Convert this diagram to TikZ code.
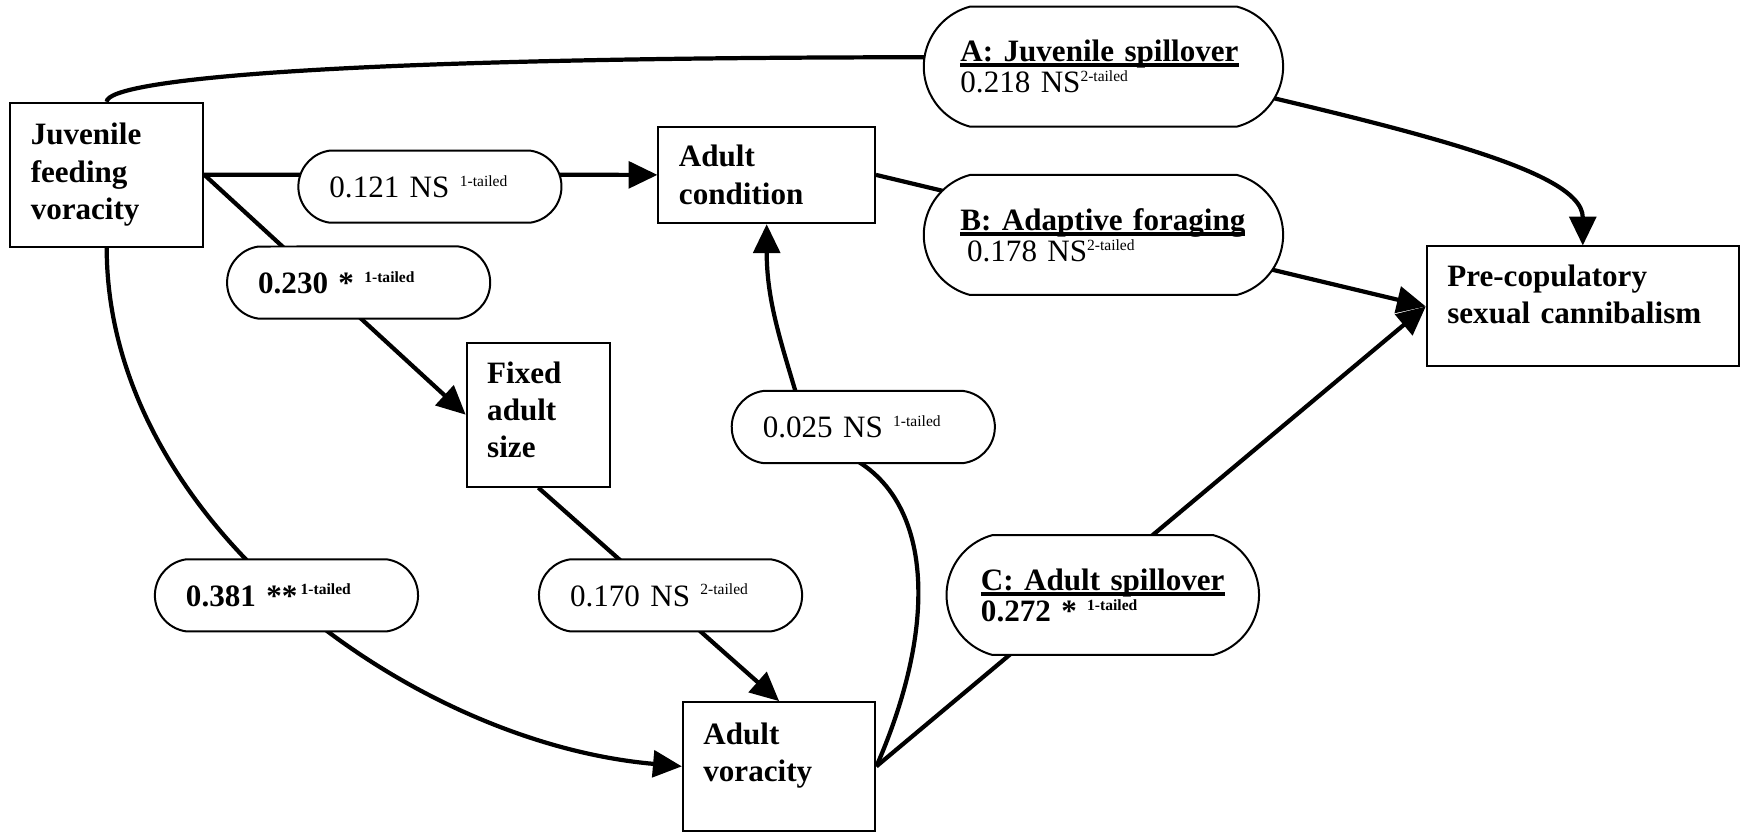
\documentclass[tikz,border=0pt]{standalone}
\usepackage{fontspec}
\setmainfont{Liberation Serif}
\usetikzlibrary{arrows.meta, shapes.misc}
\newcommand{\tails}[1]{\raisebox{10pt}{\fontsize{14}{14}\selectfont #1}}
\newcommand{\ulhead}[1]{\setbox0=\hbox{#1}\rlap{\rule[-5pt]{\wd0}{3.5pt}}\box0}

\begin{document}
\begin{tikzpicture}
[every node/.style={inner sep=0pt},
 box/.style={draw=black, line width=1.8pt, align=left, inner xsep=18.5pt, font=\fontsize{28}{33.5}\selectfont\bfseries},
 pill/.style={rounded rectangle, rounded rectangle arc length=165, draw=black, fill=white, line width=1.8pt, align=left, minimum width=237pt, text width=181pt, minimum height=65pt, font=\fontsize{28}{28}\selectfont},
 boldpill/.style={pill, font=\fontsize{28}{28}\selectfont\bfseries},
 bigpill/.style={pill, rounded rectangle arc length=150, minimum width=323.6pt, text width=257.6pt, minimum height=108pt},
 conn/.style={line width=3.8pt, -{Triangle[length=26pt, width=24pt]}, color=black}]
\useasboundingbox (0pt, 0pt) rectangle (1568pt, -749.3pt);
\node (juv) [box, text width=136.8pt, minimum height=129.5pt] at (96.1pt, -157.3pt) {Juvenile\\feeding\\voracity};
\node (cond) [box, text width=158pt, minimum height=87pt] at (690.5pt, -157.5pt) {Adult\\condition};
\node (fixed) [box, text width=92.2pt, minimum height=129.7pt, text depth=76.5pt] at (484.9pt, -373.5pt) {Fixed\\adult\\size};
\node (avor) [box, text width=136.4pt, minimum height=115.7pt, text depth=59.4pt] at (701.7pt, -690.2pt) {Adult\\voracity};
\node (pre) [box, text width=244pt, minimum height=108pt, text depth=55pt] at (1425.5pt, -276pt) {Pre-copulatory\\sexual cannibalism};
\draw [conn] (juv.east) to (cond.west);
\draw [conn] (juv.east) to (fixed.west);
\draw [conn] (juv.south) to [out=-90, in=175, looseness=0.9] (avor.west);
\draw [conn] (juv.north) .. controls (96pt, -72pt) and (300pt, -48pt) .. (990pt, -52pt) .. controls (1250pt, -112pt) and (1425.5pt, -150pt) .. (pre.north);
\draw [conn] (cond.east) to (pre.west);
\draw [conn] (fixed.south) to (avor.north);
\draw [conn] (avor.east) .. controls (855pt, -540pt) and (835pt, -418pt) .. (730pt, -400pt) to [out=105, in=-90] (cond.south);
\draw [conn] (avor.east) to (pre.west);
\node (p121) [pill] at (387.2pt, -168.1pt) {0.121 NS \tails{1-tailed}};
\node (p230) [boldpill] at (323pt, -254.5pt) {0.230 * \tails{1-tailed}};
\node (p025) [pill] at (777.5pt, -384.6pt) {0.025 NS \tails{1-tailed}};
\node (p381) [boldpill] at (258pt, -536.2pt) {0.381 **\hspace{3pt}\tails{1-tailed}};
\node (p170) [pill] at (603.9pt, -536.2pt) {0.170 NS \tails{2-tailed}};
\node (pA) [bigpill] at (993.8pt, -60pt) {\ulhead{\bfseries A: Juvenile spillover}\\0.218 NS\tails{2-tailed}};
\node (pB) [bigpill] at (993.8pt, -211.6pt) {\ulhead{\bfseries B: Adaptive foraging}\\\hspace*{6pt}0.178 NS\tails{2-tailed}};
\node (pC) [bigpill, minimum width=281.4pt, text width=219.4pt, font=\fontsize{28}{28}\selectfont\bfseries] at (993.2pt, -535.9pt) {\ulhead{C: Adult spillover}\\0.272 * \tails{1-tailed}};
\end{tikzpicture}
\end{document}
